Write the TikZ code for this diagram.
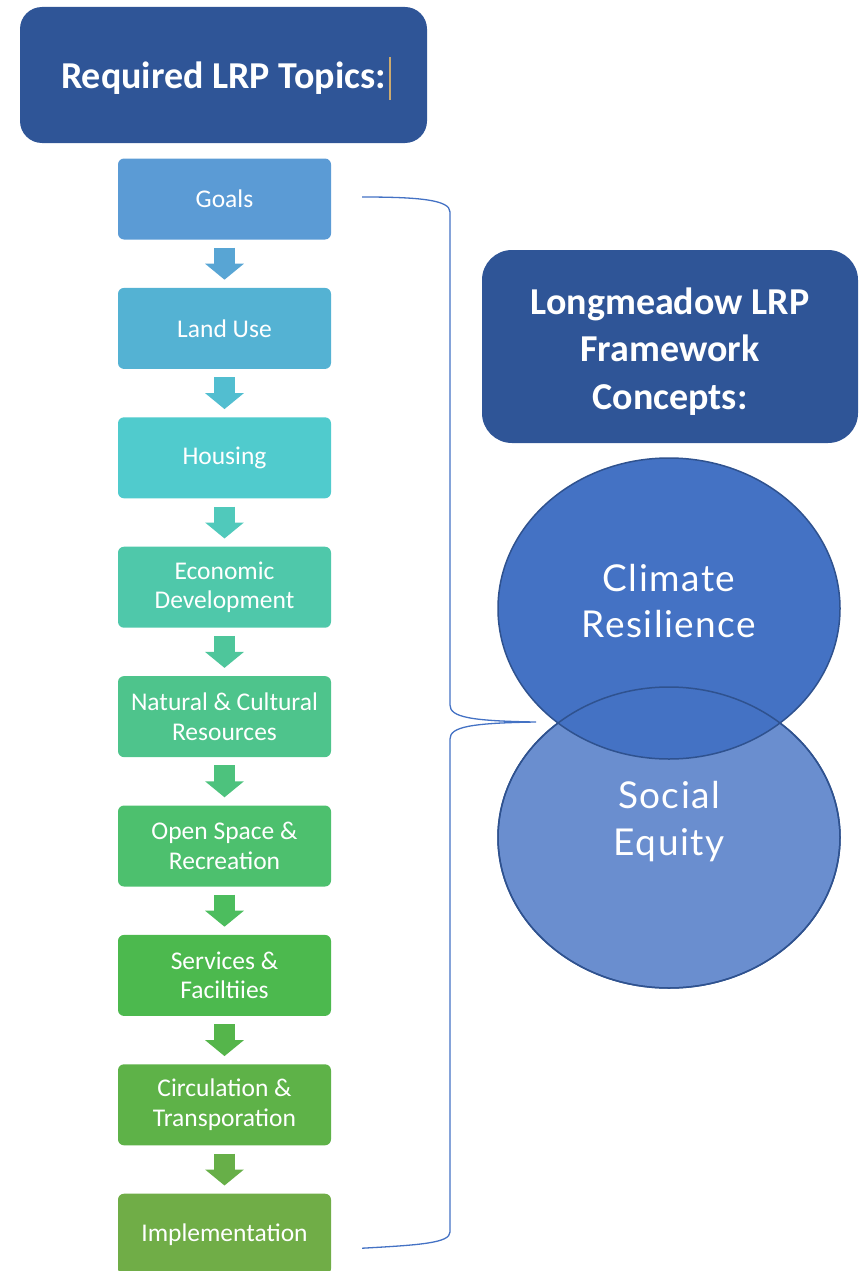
\documentclass[tikz,border=0pt]{standalone}
\usepackage{fontspec}
\setmainfont{Carlito}
\newfontfamily\conceptfont[LetterSpace=4]{Lato}
\usetikzlibrary{positioning, shapes.geometric}
\usetikzlibrary{arrows.meta}

\definecolor{titleblue}{RGB}{47,85,151}
\definecolor{circleblue}{RGB}{68,114,196}
\definecolor{circlelight}{RGB}{106,142,207}
\definecolor{circleline}{RGB}{47,82,143}
\definecolor{cursortan}{RGB}{205,170,110}
\definecolor{topicA}{RGB}{91,155,213}
\definecolor{topicB}{RGB}{84,178,211}
\definecolor{topicC}{RGB}{80,203,205}
\definecolor{topicD}{RGB}{79,200,170}
\definecolor{topicE}{RGB}{78,196,140}
\definecolor{topicF}{RGB}{77,192,110}
\definecolor{topicG}{RGB}{76,185,78}
\definecolor{topicH}{RGB}{94,178,72}
\definecolor{topicI}{RGB}{112,173,71}

\begin{document}
\begin{tikzpicture}[x=1pt, y=-1pt,
                    headbox/.style = {rounded corners=22pt, fill=titleblue},
                    headtext/.style = {text=white, align=center,
                                       font=\bfseries\fontsize{38}{47.5}\selectfont},
                    topic/.style = {rounded corners=6pt, fill=#1, text=white,
                                    minimum width=213pt, minimum height=81pt,
                                    inner sep=2pt, align=center,
                                    font=\fontsize{25.5}{29.5}\selectfont},
                    flow/.style = {draw=#1, line width=21pt,
                                   -{Triangle[width=38pt, length=16pt]},
                                   shorten <=8pt, shorten >=8pt},
                    concept/.style = {ellipse, draw=circleline, line width=1.5pt, fill=#1,
                                      minimum width=342pt, minimum height=301pt, inner sep=0pt},
                    conceptlabel/.style = {text=white, align=center,
                                           font=\conceptfont\fontsize{37}{46.5}\selectfont}
                   ]
   \useasboundingbox (0,0) rectangle (865,1271);

   % left column
   \node[headbox, minimum width=407pt, minimum height=136pt] (required) at (223.5,75) {};
   \node[headtext] (requiredtext) at ([yshift=-3pt]required.center) {Required LRP Topics:};
   \draw[cursortan, line width=1.5pt] (390,57) -- (390,100);

   \node[topic=topicA] (goals) at (224.5,199) {Goals};
   \node[topic=topicB, below=48pt of goals] (landuse) {Land Use};
   \node[topic=topicC, below=48pt of landuse] (housing) {Housing};
   \node[topic=topicD, below=48pt of housing] (economic) {Economic\\Development};
   \node[topic=topicE, below=48pt of economic] (natural) {Natural \& Cultural\\Resources};
   \node[topic=topicF, below=48pt of natural] (openspace) {Open Space \&\\Recreation};
   \node[topic=topicG, below=48pt of openspace] (services) {Services \&\\Faciltiies};
   \node[topic=topicH, below=48pt of services] (circulation) {Circulation \&\\Transporation};
   \node[topic=topicI, below=48pt of circulation] (implementation) {Implementation};

   \draw[flow=topicA!55!topicB] (goals) -- (landuse);
   \draw[flow=topicB!50!topicC] (landuse) -- (housing);
   \draw[flow=topicC!50!topicD] (housing) -- (economic);
   \draw[flow=topicD!50!topicE] (economic) -- (natural);
   \draw[flow=topicE!50!topicF] (natural) -- (openspace);
   \draw[flow=topicF!50!topicG] (openspace) -- (services);
   \draw[flow=topicG!50!topicH] (services) -- (circulation);
   \draw[flow=topicH!50!topicI] (circulation) -- (implementation);

   % bracket
   \coordinate (bracetop) at ([xshift=31pt, yshift=2pt]goals.east);
   \coordinate (bracebottom) at ([xshift=31pt, yshift=-14pt]implementation.east);
   \coordinate (bracetip) at (536,722);
   \draw[circleblue, line width=1.3pt]
         (bracetop) .. controls (420,197) and (450,200) .. (450,212) -- (450,705)
         .. controls (450,717) and (470,721) .. (bracetip)
         .. controls (470,723) and (450,727) .. (450,739) -- (450,1232)
         .. controls (450,1243) and (420,1245) .. (bracebottom);

   % right column
   \node[headbox, rounded corners=30pt, minimum width=376pt, minimum height=193pt] (framework) at (670,346.5) {};
   \node[headtext] (frameworktext) at ([yshift=-5pt]framework.center) {Longmeadow LRP\\Framework\\Concepts:};

   \node[concept=circlelight] (equity) at (669,837.5) {};
   \node[concept=circleblue] (climate) at (669,608.5) {};
   \draw[circleline, line width=1.5pt] (equity.center) ellipse (171pt and 150.5pt);

   \node[conceptlabel] (climatetext) at ([yshift=7.5pt]climate.center) {Climate\\Resilience};
   \node[conceptlabel] (equitytext) at ([yshift=16pt]equity.center) {Social\\Equity};
\end{tikzpicture}
\end{document}
